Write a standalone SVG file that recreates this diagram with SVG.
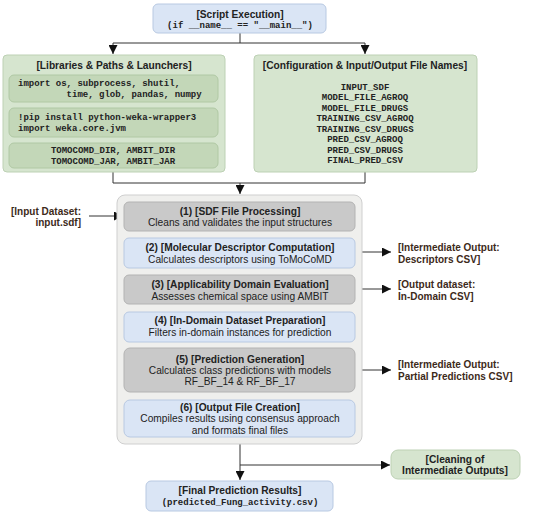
<svg xmlns="http://www.w3.org/2000/svg" width="550" height="514" viewBox="0 0 550 514">
<defs>
<style>
.t{font-family:"Liberation Sans",Arial,sans-serif;font-size:10.2px;fill:#222;text-anchor:middle}
.b{font-weight:bold}
.m{font-family:"Liberation Mono","Courier New",monospace;font-size:9px;font-weight:bold;fill:#222}
.mc{text-anchor:middle}
.lab{font-family:"Liberation Sans",Arial,sans-serif;font-size:10px;font-weight:bold;fill:#3d2a1a}
.blue{fill:#dae5f5;stroke:#b8c9e2;stroke-width:1}
.green{fill:#d6e5cf;stroke:#bdd1b4;stroke-width:1}
.green2{fill:#c3d7b8;stroke:#b0c8a4;stroke-width:1}
.gray{fill:#c9c9c9;stroke:#b3b3b3;stroke-width:1}
.cont{fill:#efefed;stroke:#cfcfcf;stroke-width:1}
.ln{stroke:#333;stroke-width:1;fill:none}
</style>
<marker id="ah" viewBox="0 0 10 10" refX="10" refY="5" markerWidth="9" markerHeight="9" markerUnits="userSpaceOnUse" orient="auto"><path d="M0,0 L10,5 L0,10 z" fill="#111"/></marker>
</defs>

<g id="connectors">
<path class="ln" d="M240,33 V43 M113,43 H365"/>
<path class="ln" d="M113,43 V54" marker-end="url(#ah)"/>
<path class="ln" d="M365,43 V54" marker-end="url(#ah)"/>
<path class="ln" d="M113,172 V183 H365 V172"/>
<path class="ln" d="M240,183 V194" marker-end="url(#ah)"/>
<path class="ln" d="M89,216 H123" marker-end="url(#ah)"/>
<path class="ln" d="M355,252 H391" marker-end="url(#ah)"/>
<path class="ln" d="M355,289 H391" marker-end="url(#ah)"/>
<path class="ln" d="M355,370 H391" marker-end="url(#ah)"/>
<path class="ln" d="M240,444 V480" marker-end="url(#ah)"/>
<path class="ln" d="M240,465 H390" marker-end="url(#ah)"/>
<g fill="#3b6cb3">
<path d="M236,232 h8 l-4,6 z"/>
<path d="M236,268 h8 l-4,6 z"/>
<path d="M236,305 h8 l-4,6 z"/>
<path d="M236,342 h8 l-4,6 z"/>
<path d="M236,393 h8 l-4,6 z"/>
</g>
</g>

<g id="script">
<rect class="blue" x="153" y="4" width="173" height="29" rx="5"/>
<text class="t b" x="240" y="17.5">[Script Execution]</text>
<text class="m mc" x="240" y="28" xml:space="preserve">(if __name__ == "__main__")</text>
</g>

<g id="libraries">
<rect class="green" x="3" y="55" width="222" height="117" rx="4"/>
<text class="t b" x="114" y="69">[Libraries &amp; Paths &amp; Launchers]</text>
<rect class="green2" x="9" y="75" width="209" height="27" rx="5"/>
<text class="m" x="18" y="86" xml:space="preserve">import os, subprocess, shutil,</text>
<text class="m" x="18" y="97" xml:space="preserve">         time, glob, pandas, numpy</text>
<rect class="green2" x="9" y="108" width="209" height="29" rx="5"/>
<text class="m" x="18" y="120">!pip install python-weka-wrapper3</text>
<text class="m" x="18" y="131">import weka.core.jvm</text>
<rect class="green2" x="9" y="143" width="209" height="25" rx="5"/>
<text class="m mc" x="113" y="153">TOMOCOMD_DIR, AMBIT_DIR</text>
<text class="m mc" x="113" y="164">TOMOCOMD_JAR, AMBIT_JAR</text>
</g>

<g id="config">
<rect class="green" x="254" y="55" width="223" height="117" rx="4"/>
<text class="t b" x="365" y="69">[Configuration &amp; Input/Output File Names]</text>
<text class="m mc" x="365" y="90">INPUT_SDF</text>
<text class="m mc" x="365" y="100">MODEL_FILE_AGROQ</text>
<text class="m mc" x="365" y="111">MODEL_FILE_DRUGS</text>
<text class="m mc" x="365" y="121">TRAINING_CSV_AGROQ</text>
<text class="m mc" x="365" y="132">TRAINING_CSV_DRUGS</text>
<text class="m mc" x="365" y="142">PRED_CSV_AGROQ</text>
<text class="m mc" x="365" y="153">PRED_CSV_DRUGS</text>
<text class="m mc" x="365" y="163">FINAL_PRED_CSV</text>
</g>

<g id="pipeline">
<rect class="cont" x="117" y="195" width="245" height="249" rx="8"/>
</g>

<g id="step1">
<rect class="gray" x="124" y="202" width="231" height="29" rx="5"/>
<text class="t b" x="240" y="214.5">(1) [SDF File Processing]</text>
<text class="t" x="240" y="226">Cleans and validates the input structures</text>
</g>
<g id="step2">
<rect class="blue" x="124" y="238" width="231" height="30" rx="5"/>
<text class="t b" x="240" y="251">(2) [Molecular Descriptor Computation]</text>
<text class="t" x="240" y="262.5">Calculates descriptors using ToMoCoMD</text>
</g>
<g id="step3">
<rect class="gray" x="124" y="275" width="231" height="29" rx="5"/>
<text class="t b" x="240" y="287.5">(3) [Applicability Domain Evaluation]</text>
<text class="t" x="240" y="299.5">Assesses chemical space using AMBIT</text>
</g>
<g id="step4">
<rect class="blue" x="124" y="312" width="231" height="30" rx="5"/>
<text class="t b" x="240" y="324">(4) [In-Domain Dataset Preparation]</text>
<text class="t" x="240" y="335.5">Filters in-domain instances for prediction</text>
</g>
<g id="step5">
<rect class="gray" x="124" y="348" width="231" height="44" rx="6"/>
<text class="t b" x="240" y="362.5">(5) [Prediction Generation]</text>
<text class="t" x="240" y="374">Calculates class predictions with models</text>
<text class="t" x="240" y="385">RF_BF_14 &amp; RF_BF_17</text>
</g>
<g id="step6">
<rect class="blue" x="124" y="400" width="231" height="37" rx="6"/>
<text class="t b" x="240" y="410.5">(6) [Output File Creation]</text>
<text class="t" x="240" y="422">Compiles results using consensus approach</text>
<text class="t" x="240" y="433.5">and formats final files</text>
</g>

<g id="input-label">
<text class="lab" x="81" y="215" text-anchor="end">[Input Dataset:</text>
<text class="lab" x="81" y="226" text-anchor="end">input.sdf]</text>
</g>
<g id="out-descriptors">
<text class="lab" x="398" y="251">[Intermediate Output:</text>
<text class="lab" x="398" y="263">Descriptors CSV]</text>
</g>
<g id="out-domain">
<text class="lab" x="398" y="288">[Output dataset:</text>
<text class="lab" x="398" y="300">In-Domain CSV]</text>
</g>
<g id="out-partial">
<text class="lab" x="398" y="368">[Intermediate Output:</text>
<text class="lab" x="398" y="380">Partial Predictions CSV]</text>
</g>

<g id="cleaning">
<rect class="green" x="391" y="450" width="129" height="29" rx="7"/>
<text class="t b" x="455" y="462.5">[Cleaning of</text>
<text class="t b" x="455" y="473.5">Intermediate Outputs]</text>
</g>

<g id="final">
<rect class="blue" x="146" y="481" width="187" height="30" rx="5"/>
<text class="t b" x="240" y="494">[Final Prediction Results]</text>
<text class="m mc" x="240" y="505">(predicted_Fung_activity.csv)</text>
</g>
</svg>
